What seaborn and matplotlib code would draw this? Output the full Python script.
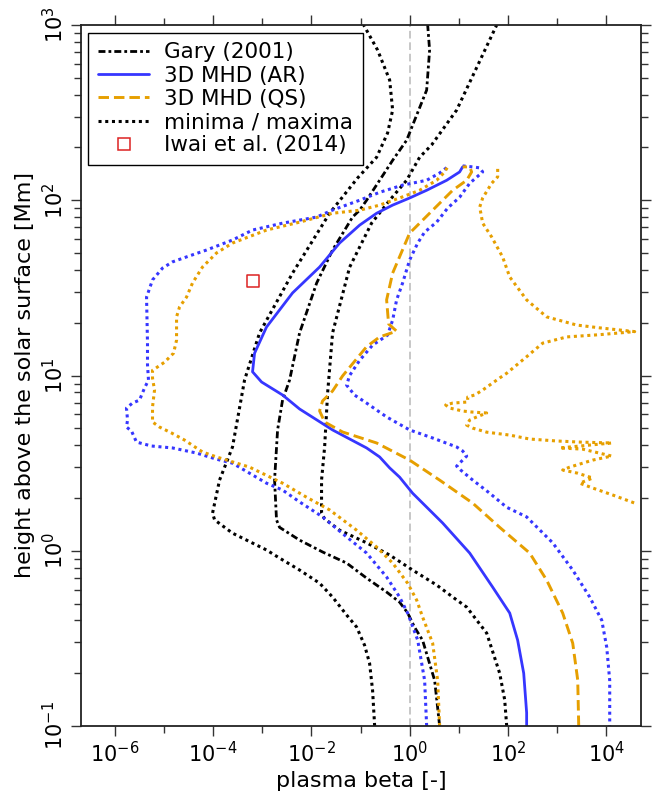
import numpy as np
import matplotlib
matplotlib.use("Agg")
import matplotlib.pyplot as plt
from matplotlib.lines import Line2D
from matplotlib.ticker import LogLocator, NullFormatter, FixedLocator
import seaborn as sns

# Gary (2001) model and its minimum / maximum
gary_h = [0.1, 0.182, 0.308, 0.366, 0.442, 0.509, 0.581, 0.698, 0.851, 0.984, 1.15, 1.36, 1.50,
          2.53, 4.89, 7.24, 9.42, 17.5, 33.7, 52.0, 80.2, 87.7, 100, 130, 169, 220, 425, 719, 1000]
gary_beta = [4.08, 3.23, 1.84, 1.26, 0.910, 0.625, 0.340, 0.133, 0.0521, 0.0169, 0.00575, 0.00225, 0.00195,
             0.00178, 0.00205, 0.00259, 0.00360, 0.00575, 0.0128, 0.0270, 0.0690, 0.0959, 0.133, 0.245,
             0.451, 0.869, 2.22, 2.55, 2.33]

gary_min_h = [0.1, 0.160, 0.228, 0.289, 0.367, 0.430, 0.544, 0.653, 0.776, 0.908, 1.01, 1.26, 1.50, 1.64,
              2.53, 3.91, 9.42, 17.5, 38.4, 84.3, 134, 176, 242, 327, 485, 719, 1000]
gary_min_beta = [0.194, 0.176, 0.153, 0.121, 0.0833, 0.0521, 0.0270, 0.0147, 0.00575, 0.00225, 0.00122,
                 0.000248, 0.000107, 9.73e-5, 0.000135, 0.000248, 0.000436, 0.000881, 0.00414, 0.0235,
                 0.0873, 0.213, 0.356, 0.451, 0.392, 0.223, 0.116]

gary_max_h = [0.1, 0.141, 0.200, 0.339, 0.477, 0.524, 0.637, 0.776, 0.945, 1.11, 1.31, 1.52, 1.64, 2.53,
              3.91, 7.94, 17.5, 41.5, 74.0, 100, 130, 176, 207, 327, 1000]
gary_max_beta = [94.6, 86.1, 68.1, 37.0, 14.5, 9.06, 3.55, 1.15, 0.392, 0.133, 0.0375, 0.0186, 0.0161,
                 0.0161, 0.0186, 0.0214, 0.0270, 0.0600, 0.168, 0.392, 0.869, 1.60, 2.81, 9.06, 59.2]

# 3D MHD, active region
ar_h = [0.1, 0.119, 0.200, 0.309, 0.441, 0.620, 0.970, 1.44, 2.13, 2.63, 2.97, 3.43, 3.86, 4.89, 6.44,
        7.74, 9.18, 10.5, 13.4, 18.9, 29.6, 41.6, 57.0, 72.1, 84.3, 93.8, 103, 114, 130, 145, 155]
ar_beta = [241, 241, 210, 158, 109, 49.0, 16.7, 4.70, 1.15, 0.625, 0.392, 0.245, 0.133, 0.0270, 0.00575,
           0.00259, 0.000968, 0.000634, 0.000697, 0.00122, 0.00414, 0.0147, 0.0375, 0.0959, 0.213, 0.451,
           1.0, 2.22, 5.68, 10.4, 12.0]

ar_min_h = [0.1, 0.182, 0.309, 0.441, 0.544, 0.708, 0.970, 1.20, 1.56, 1.90, 2.22, 2.43, 3.16, 3.33, 3.61,
            3.86, 3.96, 4.17, 4.82, 5.08, 5.57, 6.52, 6.96, 7.24, 8.48, 9.42, 11.5, 15.3, 28.0, 35.1, 41.0,
            44.5, 47.5, 52.0, 59.3, 67.6, 74.0, 80.2, 87.9, 100, 111, 122, 130, 143, 155]
ar_min_beta = [2.22, 2.02, 1.46, 0.910, 0.625, 0.340, 0.133, 0.0521, 0.0169, 0.00575, 0.00259, 0.00122,
               0.000248, 0.000117, 4.59e-5, 1.49e-5, 5.56e-6, 2.75e-6, 2.18e-6, 1.72e-6, 1.81e-6, 1.72e-6,
               2.28e-6, 3.17e-6, 4.01e-6, 4.83e-6, 4.61e-6, 4.61e-6, 4.41e-6, 5.83e-6, 9.32e-6, 1.49e-5,
               2.87e-5, 7.34e-5, 0.000248, 0.000634, 0.00259, 0.0128, 0.0270, 0.0959, 0.245, 0.719, 2.22,
               4.08, 5.94]

ar_max_h = [157, 155, 153, 145, 125, 104, 90.2, 75.0, 65.8, 57.0, 45.6, 33.7, 27.0, 20.7, 17.0, 14.9, 12.2,
            10.0, 8.81, 7.73, 6.96, 5.80, 4.89, 4.40, 3.91, 3.71, 3.47, 3.04, 2.89, 2.56, 2.13, 1.77, 1.56,
            1.11, 0.776, 0.544, 0.402, 0.282, 0.182, 0.1]
ar_max_beta = [12.0, 19.2, 26.7, 30.7, 16.7, 10.4, 5.94, 3.55, 2.02, 1.46, 1.0, 0.719, 0.543, 0.451, 0.356,
               0.176, 0.0959, 0.0600, 0.0521, 0.0759, 0.133, 0.340, 1.0, 2.94, 9.06, 12.0, 14.5, 9.06, 10.9,
               18.3, 42.6, 94.6, 241, 817, 2089, 4634, 8128, 10280, 11830, 11830]

# 3D MHD, quiet sun
qs_h = [0.1, 0.183, 0.297, 0.441, 0.679, 0.970, 1.36, 1.87, 2.53, 3.29, 4.12, 4.76, 5.43, 6.28, 7.16, 8.16,
        9.95, 14.6, 16.6, 17.9, 19.7, 27.0, 38.4, 64.9, 84.3, 114, 130, 145, 155, 155]
qs_beta = [2767, 2641, 2089, 1306, 617, 278, 68.1, 19.2, 4.08, 1.0, 0.213, 0.0432, 0.0186, 0.0147, 0.0169,
           0.0270, 0.0432, 0.133, 0.245, 0.543, 0.373, 0.340, 0.451, 1.0, 2.55, 7.52, 14.5, 18.3, 16.7, 12.0]

qs_min_h = [0.1, 0.182, 0.297, 0.418, 0.523, 0.653, 0.851, 1.05, 1.31, 1.71, 2.02, 2.43, 3.00, 3.43, 3.66,
            4.28, 4.70, 5.08, 5.43, 6.61, 8.26, 9.66, 10.7, 11.9, 13.4, 15.9, 21.6, 24.6, 28.0, 33.7, 41.6,
            50.0, 57.0, 67.6, 75.0, 84.3, 87.7, 93.8, 103, 114, 130, 145, 155]
qs_min_beta = [4.08, 3.72, 2.94, 1.84, 1.39, 0.910, 0.451, 0.213, 0.0833, 0.0235, 0.00798, 0.00259,
               0.000551, 0.000117, 6.08e-5, 2.62e-5, 1.42e-5, 8.09e-6, 5.83e-6, 5.83e-6, 6.41e-6, 5.83e-6,
               5.83e-6, 1.02e-5, 1.56e-5, 1.80e-5, 1.80e-5, 2.07e-5, 2.87e-5, 3.80e-5, 6.08e-5, 0.000117,
               0.000248, 0.00122, 0.00575, 0.0270, 0.0959, 0.245, 0.625, 1.60, 3.55, 5.16, 5.94]

qs_max_h = [151, 136, 125, 103, 91.4, 74.0, 61.7, 47.4, 36.5, 27.0, 21.6, 19.4, 18.7, 17.8, 17.1, 16.6,
            15.3, 12.8, 10.3, 9.68, 8.26, 7.74, 7.54, 7.06, 6.96, 6.79, 6.52, 6.27, 6.19, 6.11, 5.80, 5.57,
            5.21, 5.01, 4.75, 4.57, 4.34, 4.23, 4.17, 4.12, 3.86, 3.80, 3.47, 3.29, 3.00, 2.89, 2.77, 2.60,
            2.43, 2.28, 2.08, 1.87]
qs_max_beta = [62.0, 62.0, 46.8, 30.7, 26.7, 30.7, 46.8, 78.3, 109, 241, 617, 2518, 7396, 38200, 7396, 1578,
               512, 241, 94.6, 68.1, 30.7, 21.1, 15.2, 15.2, 7.52, 5.41, 6.53, 12.0, 18.3, 37.0, 23.2, 16.7,
               14.5, 19.2, 37.0, 109, 278, 986, 2898, 13000, 1135, 3334, 13000, 5333, 1815, 1306, 2641, 5333,
               2898, 5333, 13600, 38200]

# Iwai et al. (2014)
iwai_beta = [6.4e-4]
iwai_h = [34.6]

legend_labels = ["Gary (2001)", "3D MHD (AR)", "3D MHD (QS)", "minima / maxima", "Iwai et al. (2014)"]

sns.set_style("ticks")
plt.rcParams["font.family"] = ["DejaVu Sans"]
plt.rcParams["mathtext.fontset"] = "dejavusans"
plt.rcParams["ytick.alignment"] = "center"
plt.rcParams["text.color"] = "black"
plt.rcParams["axes.labelcolor"] = "black"
plt.rcParams["xtick.labelcolor"] = "black"
plt.rcParams["ytick.labelcolor"] = "black"

BLUE = "#3636ff"
ORANGE = "#e69f00"
RED = "#dd2222"
dotted = (0, (1, 1.2))
dashdot = (0, (2.5, 1.1, 1, 1.1))
dashed = (0, (3.6, 1.7))

fig = plt.figure(figsize=(6.57, 7.97), dpi=100)
ax = fig.add_axes([81 / 657, 71 / 797, 560 / 657, 701 / 797])
ax.set_xscale("log")
ax.set_yscale("log")

ax.axvline(1, color="#b8b8b8", lw=1.1, ls=(0, (5, 2.5)), zorder=1)

def draw(x, y, color, ls, lw):
    sns.lineplot(x=x, y=y, sort=False, estimator=None, color=color,
                 linestyle=ls, lw=lw, ax=ax)

draw(gary_min_beta, gary_min_h, "black", dotted, 2.2)
draw(gary_max_beta, gary_max_h, "black", dotted, 2.2)
draw(gary_beta, gary_h, "black", dashdot, 2.0)
draw(ar_min_beta, ar_min_h, BLUE, dotted, 2.2)
draw(ar_max_beta, ar_max_h, BLUE, dotted, 2.2)
draw(qs_min_beta, qs_min_h, ORANGE, dotted, 2.2)
draw(qs_max_beta, qs_max_h, ORANGE, dotted, 2.2)
draw(ar_beta, ar_h, BLUE, "-", 2.0)
draw(qs_beta, qs_h, ORANGE, dashed, 2.1)

sns.scatterplot(x=iwai_beta, y=iwai_h, marker="s", s=70, facecolor="none",
                edgecolor=RED, linewidth=1.1, ax=ax, zorder=5)

ax.set_xlim(10 ** -6.69, 10 ** 4.71)
ax.set_ylim(0.1, 1000)

ax.xaxis.set_major_locator(FixedLocator([1e-6, 1e-4, 1e-2, 1, 1e2, 1e4]))
ax.xaxis.set_minor_locator(FixedLocator([1e-5, 1e-3, 1e-1, 1e1, 1e3]))
ax.xaxis.set_minor_formatter(NullFormatter())
ax.yaxis.set_major_locator(LogLocator(base=10, numticks=10))
ax.yaxis.set_minor_locator(LogLocator(base=10, subs=np.arange(2, 10), numticks=20))
ax.yaxis.set_minor_formatter(NullFormatter())

ax.tick_params(which="both", direction="out", top=True, right=True, width=1,
               color="#333333", labelsize=15, labelcolor="black")
ax.tick_params(which="major", length=7)
ax.tick_params(which="minor", length=4.8)
ax.tick_params(axis="x", pad=4)
ax.tick_params(axis="y", labelrotation=90, pad=3)
for sp in ax.spines.values():
    sp.set_color("#222222")
    sp.set_linewidth(1.3)

ax.set_xlabel("plasma beta [-]", fontsize=16, labelpad=3)
ax.set_ylabel("height above the solar surface [Mm]", fontsize=16, labelpad=5)

handles = [
    Line2D([], [], color="black", lw=2.0, linestyle=dashdot),
    Line2D([], [], color=BLUE, lw=2.0),
    Line2D([], [], color=ORANGE, lw=2.1, linestyle=dashed),
    Line2D([], [], color="black", lw=2.2, linestyle=dotted),
    Line2D([], [], ls="none", marker="s", ms=8, mfc="none", mec=RED, mew=1.1),
]
leg = ax.legend(handles, legend_labels, loc="upper left", bbox_to_anchor=(0.0125, 0.989),
                borderaxespad=0, fontsize=15.5, handlelength=2.4, handletextpad=0.7,
                labelspacing=0.15, borderpad=0.45, fancybox=False, framealpha=1,
                edgecolor="black")
leg.get_frame().set_linewidth(1.0)

fig.savefig("out.png", dpi=100)
